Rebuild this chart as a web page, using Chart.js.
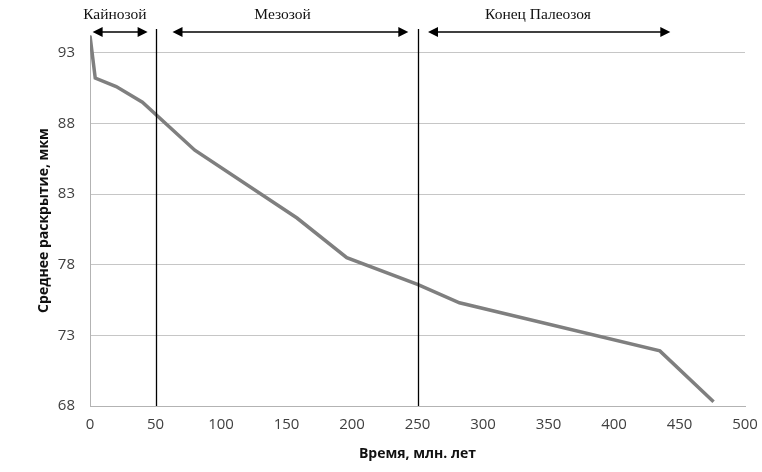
<!DOCTYPE html>
<html>
<head>
<meta charset="utf-8">
<script src="https://cdn.jsdelivr.net/npm/chart.js@4.4.1/dist/chart.umd.min.js"></script>
<style>
  html, body { margin: 0; padding: 0; background: #fff; }
  #wrap { width: 762px; height: 472px; }
</style>
</head>
<body>
<div id="wrap"><canvas id="chart"></canvas></div>
<script>
// time, Ma
const timeValues = [0, 4, 20, 40, 80, 158, 196, 250, 282, 435, 476];
// mean aperture, um
const apertureValues = [94.2, 91.2, 90.6, 89.5, 86.1, 81.3, 78.5, 76.6, 75.3, 71.9, 68.3];

const yTicks = [68, 73, 78, 83, 88, 93];
const xTicks = [0, 50, 100, 150, 200, 250, 300, 350, 400, 450, 500];

// era boundaries (vertical lines) and arrow spans
const boundaryTimes = [50, 250];
const eraNames = ['Кайнозой', 'Мезозой', 'Конец Палеозоя'];
const eraStart = [2, 63, 258];
const eraEnd = [44, 243, 443];
const eraLabelAt = [19, 147, 342];

const points = timeValues.map((t, i) => ({ x: t, y: apertureValues[i] }));

function arrowHead(ctx, x, y, dir) {
  ctx.beginPath();
  ctx.moveTo(x, y);
  ctx.lineTo(x - dir * 10, y - 5);
  ctx.lineTo(x - dir * 10, y + 5);
  ctx.closePath();
  ctx.fill();
}

const erasPlugin = {
  id: 'eras',
  afterDatasetsDraw(chart) {
    const { ctx, scales: { x, y } } = chart;
    const bottom = y.getPixelForValue(68);
    ctx.save();
    ctx.strokeStyle = '#000';
    ctx.fillStyle = '#000';
    ctx.lineWidth = 1.3;
    boundaryTimes.forEach((t) => {
      const px = Math.round(x.getPixelForValue(t)) + 0.5;
      ctx.beginPath();
      ctx.moveTo(px, chart.chartArea.top - 6);
      ctx.lineTo(px, bottom);
      ctx.stroke();
    });
    const ay = chart.chartArea.top - 3;
    ctx.lineWidth = 1.5;
    eraNames.forEach((name, i) => {
      const x1 = x.getPixelForValue(eraStart[i]);
      const x2 = x.getPixelForValue(eraEnd[i]);
      ctx.beginPath();
      ctx.moveTo(x1 + 4, ay);
      ctx.lineTo(x2 - 4, ay);
      ctx.stroke();
      arrowHead(ctx, x1, ay, -1);
      arrowHead(ctx, x2, ay, 1);
      ctx.font = '15.5px "Liberation Serif"';
      ctx.textAlign = 'center';
      ctx.textBaseline = 'middle';
      ctx.fillStyle = '#111';
      ctx.fillText(name, x.getPixelForValue(eraLabelAt[i]), 15);
      ctx.fillStyle = '#000';
    });
    ctx.restore();
  },
};

new Chart(document.getElementById('chart'), {
  type: 'scatter',
  data: {
    datasets: [
      {
        data: points,
        showLine: true,
        borderColor: '#7f7f7f',
        borderWidth: 3.5,
        pointRadius: 0,
        tension: 0,
      },
    ],
  },
  options: {
    responsive: true,
    maintainAspectRatio: false,
    animation: false,
    layout: { padding: { left: 0, right: 17, top: 35, bottom: 0 } },
    plugins: { legend: { display: false }, tooltip: { enabled: false } },
    scales: {
      x: {
        type: 'linear',
        min: 0,
        max: 500,
        afterBuildTicks: (s) => { s.ticks = xTicks.map((v) => ({ value: v })); },
        afterFit: (s) => { s.height = 66; s.paddingLeft = 0; s.paddingRight = 0; },
        grid: { display: false, drawTicks: false },
        border: { display: true, color: '#b3b3b3', width: 1 },
        ticks: { color: '#404040', font: { family: 'Open Sans', size: 15 }, padding: 10, maxRotation: 0 },
        title: {
          display: true,
          text: 'Время, млн. лет',
          color: '#111',
          font: { family: 'Open Sans', size: 14, weight: 'bold' },
          padding: { top: 0, bottom: 10 },
        },
      },
      y: {
        type: 'linear',
        min: 68,
        max: 94.25,
        afterBuildTicks: (s) => { s.ticks = yTicks.map((v) => ({ value: v })); },
        afterFit: (s) => { s.width = 90; s.paddingTop = 0; s.paddingBottom = 0; },
        grid: { color: '#c6c6c6', drawTicks: false },
        border: { display: true, color: '#b3b3b3', width: 1 },
        ticks: { color: '#404040', font: { family: 'Open Sans', size: 15 }, padding: 15 },
        title: {
          display: true,
          text: 'Среднее раскрытие, мкм',
          color: '#111',
          font: { family: 'Open Sans', size: 14, weight: 'bold' },
          padding: { top: 36, bottom: 0 },
        },
      },
    },
  },
  plugins: [erasPlugin],
});
</script>
</body>
</html>
